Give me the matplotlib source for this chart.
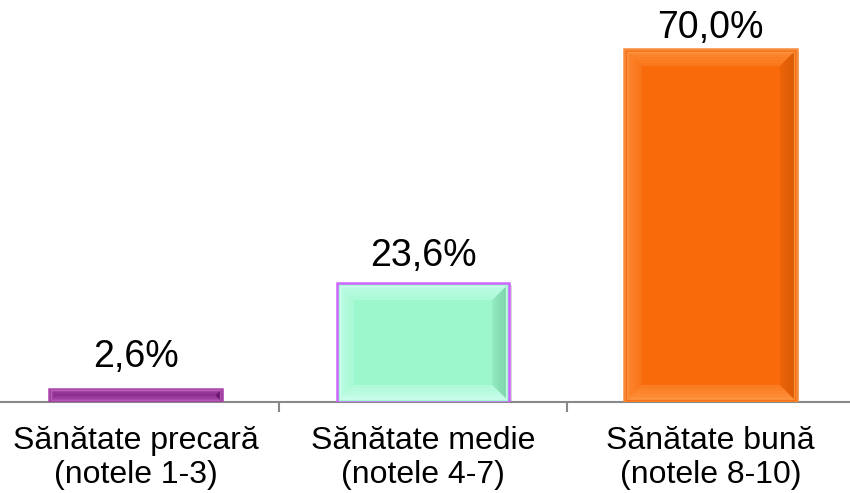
import matplotlib
matplotlib.use('Agg')
import matplotlib.pyplot as plt
from matplotlib.patches import Polygon
import matplotlib.patheffects as pe
import numpy as np

plt.rcParams['font.family'] = ['Liberation Sans', 'DejaVu Sans']

categories = ['Sănătate precară\n(notele 1-3)', 'Sănătate medie\n(notele 4-7)', 'Sănătate bună\n(notele 8-10)']
values = [2.6, 23.6, 70.0]
value_labels = ['2,6%', '23,6%', '70,0%']

base_colors = ['#7A1A7E', '#9CF8CC', '#F96A0B']
edge_colors = ['#A844AA', '#CC66FF', '#F58A3A']
light_colors = ['#C26AC4', '#D8FFF6', '#FFA050']
dark_colors = ['#5E0E60', '#6FBF97', '#C85200']
label_offsets = [22, 17, 11]  # pixels above bar top

fig = plt.figure(figsize=(8.5, 4.93), dpi=100)
ax = fig.add_axes([-8 / 850, 91 / 493, 862.5 / 850, 402 / 493])
ax.set_xlim(-0.5, 2.5)
ax.set_ylim(0, 79.7)

x = np.arange(len(categories))
width = 0.6
bars = ax.bar(x, values, width=width, color=base_colors, edgecolor=edge_colors,
              linewidth=1.8, zorder=3,
              path_effects=[pe.SimplePatchShadow(offset=(1.5, -1.5), shadow_rgbFace='#808080', alpha=0.3),
                            pe.Normal()])

# pixel -> data conversion
p0 = ax.transData.transform((0, 0))
p1 = ax.transData.transform((1, 1))
ppx = p1[0] - p0[0]
ppy = p1[1] - p0[1]

nsteps = 5
for b, lc, dc in zip(bars, light_colors, dark_colors):
    bx0 = b.get_x()
    bx1 = bx0 + b.get_width()
    by0 = b.get_y()
    by1 = by0 + b.get_height()
    hpx = b.get_height() * ppy
    m = min(3.0, hpx * 0.12)
    ins = min(14.0, hpx / 2 - m)
    mx, my = m / ppx, m / ppy
    X0, X1, Y0, Y1 = bx0 + mx, bx1 - mx, by0 + my, by1 - my
    ax.add_patch(Polygon([(X0, Y0), (X1, Y0), (X1, Y1), (X0, Y1)], closed=True, facecolor='none',
                         edgecolor=lc, linewidth=1.0, alpha=0.7, zorder=5))
    for k in range(nsteps):
        a0 = ins * k / nsteps
        a1 = ins * (k + 1) / nsteps
        d0x, d0y = a0 / ppx, a0 / ppy
        d1x, d1y = a1 / ppx, a1 / ppy
        fade = 1.0 - k / nsteps
        polys = [
            ([(X0 + d0x, Y1 - d0y), (X1 - d0x, Y1 - d0y), (X1 - d1x, Y1 - d1y), (X0 + d1x, Y1 - d1y)], lc, 0.55),
            ([(X0 + d0x, Y0 + d0y), (X1 - d0x, Y0 + d0y), (X1 - d1x, Y0 + d1y), (X0 + d1x, Y0 + d1y)], lc, 0.7),
            ([(X0 + d0x, Y0 + d0y), (X0 + d0x, Y1 - d0y), (X0 + d1x, Y1 - d1y), (X0 + d1x, Y0 + d1y)], lc, 0.5),
            ([(X1 - d0x, Y0 + d0y), (X1 - d0x, Y1 - d0y), (X1 - d1x, Y1 - d1y), (X1 - d1x, Y0 + d1y)], dc, 0.6),
        ]
        for pts, col, a in polys:
            ax.add_patch(Polygon(pts, closed=True, facecolor=col, edgecolor='none',
                                 alpha=a * (0.35 + 0.65 * fade), zorder=4))

for xi, v, lbl, off in zip(x, values, value_labels, label_offsets):
    ax.annotate(lbl, (xi, v), xytext=(0, off), textcoords='offset pixels',
                ha='center', va='baseline', fontsize=27, color='#000000')

for s in ['left', 'right', 'top']:
    ax.spines[s].set_visible(False)
ax.spines['bottom'].set_color('#898989')
ax.spines['bottom'].set_linewidth(1.5)
ax.spines['bottom'].set_zorder(2)

ax.set_yticks([])
ax.set_xticks(x)
ax.set_xticklabels(categories, fontsize=23, linespacing=1.2)
ax.tick_params(axis='x', which='major', length=0, pad=17)
ax.set_xticks(np.arange(-0.5, len(categories)), minor=True)
ax.tick_params(axis='x', which='minor', length=7, width=1.5, color='#898989', direction='out')

fig.savefig('out.png', dpi=100)
